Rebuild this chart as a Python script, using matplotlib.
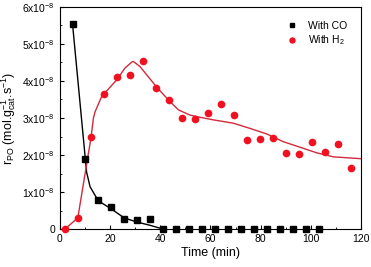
import matplotlib
matplotlib.use("Agg")
import matplotlib.pyplot as plt
from matplotlib.ticker import MultipleLocator, FuncFormatter

plt.rcParams['font.family'] = ['Liberation Sans', 'DejaVu Sans']
plt.rcParams['mathtext.fontset'] = 'custom'
plt.rcParams['mathtext.rm'] = 'Liberation Sans'
plt.rcParams['mathtext.it'] = 'Liberation Sans'

# Data (rates in units of 1e-8 mol g_cat^-1 s^-1)
co_t = [5, 10.1, 15.3, 20.3, 25.6, 30.8, 35.9, 41.1, 46.3, 51.4, 56.6, 61.8, 67.0, 72.1, 77.3, 82.4, 87.6, 92.8, 97.9, 103.1]
co_r = [5.54, 1.88, 0.78, 0.59, 0.28, 0.25, 0.27, 0, 0, 0, 0, 0, 0, 0, 0, 0, 0, 0, 0, 0]
co_fit_t = [5, 10.6, 12, 15.3, 20.3, 25.6, 30.6, 35.9, 41]
co_fit_r = [5.54, 1.54, 1.14, 0.76, 0.55, 0.3, 0.19, 0.1, 0]

h2_t = [2, 7.1, 12.4, 17.7, 22.8, 28.0, 33.2, 38.4, 43.6, 48.8, 53.9, 59.1, 64.3, 69.5, 74.7, 79.7, 84.9, 90.1, 95.3, 100.5, 105.7, 110.7, 116.0]
h2_r = [0, 0.3, 2.48, 3.66, 4.12, 4.16, 4.54, 3.81, 3.49, 3.01, 2.96, 3.14, 3.39, 3.07, 2.41, 2.44, 2.47, 2.05, 2.03, 2.34, 2.08, 2.29, 1.65]
h2_fit_t = [2, 7.1, 12.4, 13.3, 14, 16.6, 22.6, 25.9, 28.6, 29.2, 31.9, 38.6, 43.2, 47.2, 51.8, 55.8, 61.1, 69.1, 75.7, 82.4, 89, 95.7, 102.3, 109, 120]
h2_fit_r = [0, 0.3, 2.48, 2.99, 3.17, 3.58, 4.03, 4.35, 4.51, 4.53, 4.39, 3.83, 3.49, 3.22, 3.08, 3.02, 2.95, 2.86, 2.72, 2.57, 2.36, 2.21, 2.06, 1.95, 1.9]

fig = plt.figure(figsize=(3.71, 2.67), dpi=100)
ax = fig.add_axes([0.1617, 0.1423, 0.8113, 0.8315])

ax.plot(co_fit_t, co_fit_r, color='black', lw=1.0)
ax.plot(h2_fit_t, h2_fit_r, color='#d02a3c', lw=1.0)
ax.plot(co_t, co_r, 's', color='black', ms=4, label='With CO', clip_on=False, zorder=3)
ax.plot(h2_t, h2_r, 'o', color='#f01020', ms=4.5, label='With H$_2$', clip_on=False, zorder=3)

ax.set_xlim(0, 120)
ax.set_ylim(0, 6)
ax.xaxis.set_major_locator(MultipleLocator(20))
ax.xaxis.set_minor_locator(MultipleLocator(10))
ax.yaxis.set_major_locator(MultipleLocator(1))
ax.yaxis.set_minor_locator(MultipleLocator(0.5))

def yfmt(v, pos):
    if abs(v) < 1e-9:
        return '0'
    return r'%dx10$^{-8}$' % round(v)
ax.yaxis.set_major_formatter(FuncFormatter(yfmt))

ax.tick_params(which='both', direction='in', labelsize=7.5, top=False, right=False)
ax.tick_params(which='major', length=3)
ax.tick_params(which='minor', length=1.5)

ax.set_xlabel('Time (min)', fontsize=9, labelpad=2)
ax.set_ylabel(r'r$_{PO}$ (mol.g$_{cat}^{-1}$.s$^{-1}$)', fontsize=9, labelpad=3)

ax.legend(loc='upper right', frameon=False, fontsize=7.5, handletextpad=1.1,
          borderaxespad=0.9, labelspacing=0.3, handlelength=1.0, markerscale=0.8)

fig.savefig('out.png', dpi=100)
